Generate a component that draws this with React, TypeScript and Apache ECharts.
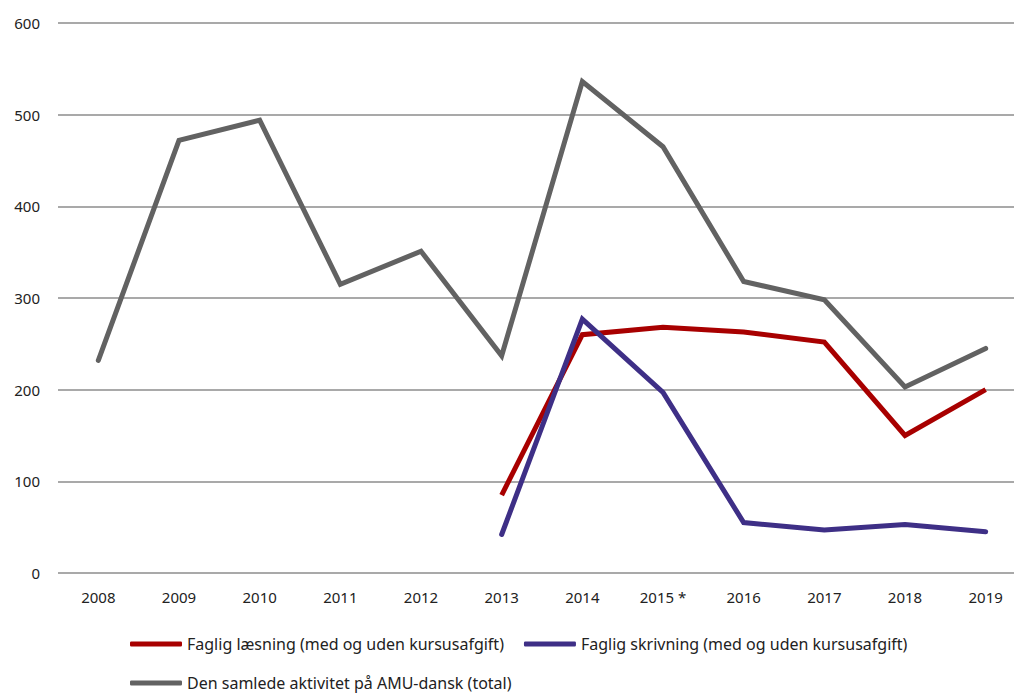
import React, { useEffect, useRef } from "react";
import * as echarts from "echarts";

const years = ["2008", "2009", "2010", "2011", "2012", "2013", "2014", "2015 *", "2016", "2017", "2018", "2019"];
const laesning = [null, null, null, null, null, 85, 260, 268, 263, 252, 150, 200];
const skrivning = [null, null, null, null, null, 42, 277, 197, 55, 47, 53, 45];
const total = [232, 472, 494, 315, 351, 237, 536, 465, 318, 298, 203, 245];
const yTicks = [0, 100, 200, 300, 400, 500, 600];

const nameL = "Faglig læsning (med og uden kursusafgift)";
const nameS = "Faglig skrivning (med og uden kursusafgift)";
const nameT = "Den samlede aktivitet på AMU-dansk (total)";

export default function App() {
  const ref = useRef<HTMLDivElement>(null);
  useEffect(() => {
    if (!ref.current) return;
    const chart = echarts.init(ref.current, null, { renderer: "svg" });
    const legendText = {
      fontFamily: "'Liberation Sans Narrow', 'Noto Sans', sans-serif",
      fontSize: 16,
      lineHeight: 16,
      color: "#222",
    };
    chart.setOption({
      animation: false,
      backgroundColor: "#fff",
      grid: { left: 58, right: 0, top: 23, bottom: 120 },
      xAxis: {
        type: "category",
        data: years,
        boundaryGap: true,
        axisLine: { show: false },
        axisTick: { show: false },
        axisLabel: { fontFamily: "'Noto Sans', sans-serif", fontSize: 15, color: "#222", margin: 16 },
      },
      yAxis: {
        type: "value",
        min: yTicks[0],
        max: yTicks[yTicks.length - 1],
        interval: 100,
        axisLine: { show: false },
        axisTick: { show: false },
        axisLabel: { fontFamily: "'Noto Sans', sans-serif", fontSize: 15, color: "#222", margin: 18 },
        splitLine: { lineStyle: { color: "#8c8c8c", width: 1.5 } },
      },
      legend: [
        {
          data: [nameL, nameS],
          left: 130,
          top: 636,
          padding: 0,
          icon: "roundRect",
          itemWidth: 52,
          itemHeight: 5,
          itemGap: 20,
          textStyle: legendText,
        },
        {
          data: [nameT],
          left: 130,
          top: 675,
          padding: 0,
          icon: "roundRect",
          itemWidth: 52,
          itemHeight: 5,
          textStyle: legendText,
        },
      ],
      series: [
        {
          name: nameL,
          type: "line",
          data: laesning,
          showSymbol: false,
          symbol: "none",
          color: "#a80000",
          lineStyle: { width: 5, color: "#a80000", join: "miter" },
        },
        {
          name: nameS,
          type: "line",
          data: skrivning,
          showSymbol: false,
          symbol: "none",
          color: "#3e2f86",
          lineStyle: { width: 5, color: "#3e2f86", join: "miter", cap: "round" },
        },
        {
          name: nameT,
          type: "line",
          data: total,
          showSymbol: false,
          symbol: "none",
          color: "#626262",
          lineStyle: { width: 5, color: "#626262", join: "miter", cap: "round" },
        },
      ],
    });
    return () => chart.dispose();
  }, []);
  return (
    <div style={{ position: "absolute", left: 0, top: 0, width: 1014, height: 693, overflow: "hidden" }}>
      <div ref={ref} style={{ width: 1026, height: 693 }} />
    </div>
  );
}
